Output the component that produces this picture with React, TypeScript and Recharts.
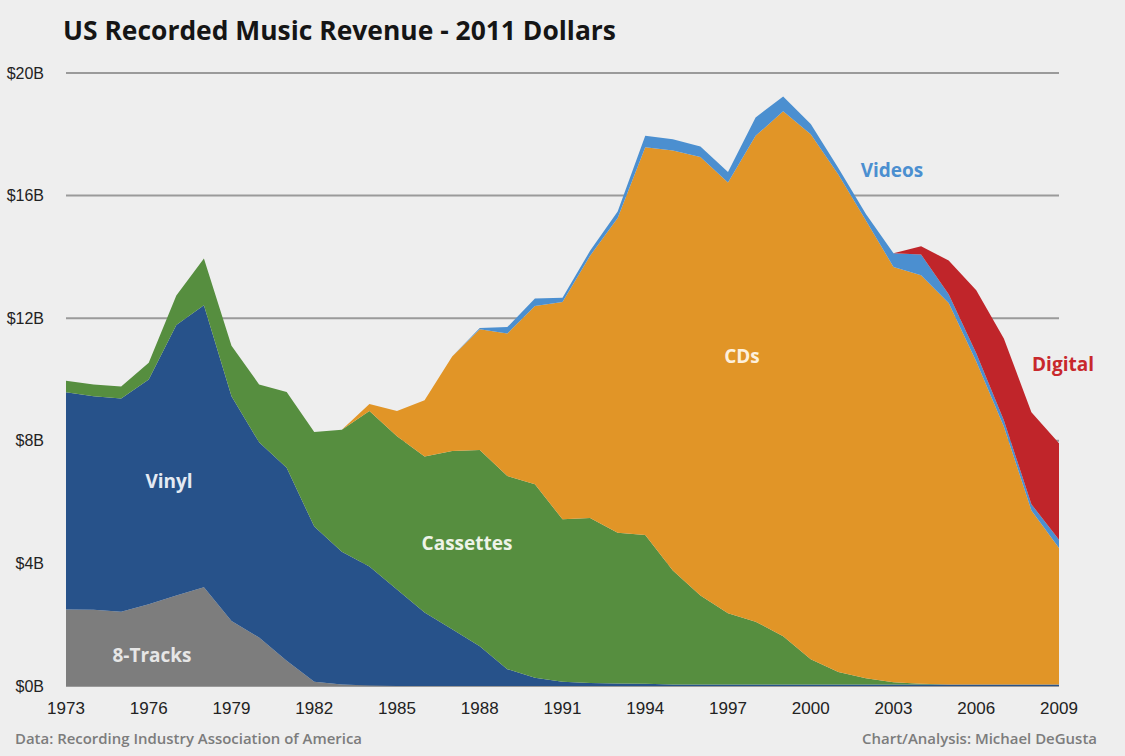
import React from "react";
import { AreaChart, Area, XAxis, YAxis, CartesianGrid } from "recharts";

const years = [
  1973, 1974, 1975, 1976, 1977, 1978, 1979, 1980, 1981, 1982, 1983, 1984, 1985,
  1986, 1987, 1988, 1989, 1990, 1991, 1992, 1993, 1994, 1995, 1996, 1997, 1998,
  1999, 2000, 2001, 2002, 2003, 2004, 2005, 2006, 2007, 2008, 2009,
];

// Revenue in billions of 2011 dollars
const eightTracks = [
  2.5, 2.49, 2.42, 2.67, 2.95, 3.22, 2.12, 1.58, 0.82, 0.14, 0.05, 0.02, 0, 0, 0,
  0, 0, 0, 0, 0, 0, 0, 0, 0, 0, 0, 0, 0, 0, 0, 0, 0, 0, 0, 0, 0, 0,
];
const vinyl = [
  7.08, 6.96, 6.96, 7.33, 8.83, 9.2, 7.33, 6.37, 6.3, 5.06, 4.33, 3.88, 3.15, 2.4,
  1.85, 1.3, 0.55, 0.27, 0.14, 0.1, 0.08, 0.07, 0.05, 0.05, 0.05, 0.05, 0.05, 0.05,
  0.05, 0.05, 0.05, 0.05, 0.05, 0.05, 0.05, 0.05, 0.05,
];
const cassettes = [
  0.38, 0.39, 0.39, 0.55, 0.96, 1.53, 1.65, 1.89, 2.47, 3.09, 3.98, 5.07, 5.0, 5.09,
  5.82, 6.4, 6.3, 6.31, 5.3, 5.38, 4.92, 4.86, 3.72, 2.9, 2.32, 2.05, 1.57, 0.82,
  0.41, 0.2, 0.07, 0.02, 0, 0, 0, 0, 0,
];
const cds = [
  0, 0, 0, 0, 0, 0, 0, 0, 0, 0, 0, 0.23, 0.82, 1.83, 3.08, 3.94, 4.65, 5.82, 7.09,
  8.56, 10.27, 12.65, 13.7, 14.31, 14.06, 15.85, 17.13, 17.13, 16.23, 14.94, 13.55,
  13.33, 12.45, 10.54, 8.42, 5.68, 4.45,
];
const videos = [
  0, 0, 0, 0, 0, 0, 0, 0, 0, 0, 0, 0, 0, 0, 0, 0.04, 0.21, 0.24, 0.14, 0.16, 0.21,
  0.37, 0.37, 0.34, 0.34, 0.6, 0.48, 0.34, 0.21, 0.21, 0.45, 0.68, 0.28, 0.27, 0.2,
  0.2, 0.27,
];
const digital = [
  0, 0, 0, 0, 0, 0, 0, 0, 0, 0, 0, 0, 0, 0, 0, 0, 0, 0, 0, 0, 0, 0, 0, 0, 0, 0, 0,
  0, 0, 0, 0, 0.27, 1.1, 2.05, 2.67, 3.0, 3.15,
];

const xTicks = [1973, 1976, 1979, 1982, 1985, 1988, 1991, 1994, 1997, 2000, 2003, 2006, 2009];
const yTicks = [0, 4, 8, 12, 16, 20];

const data = years.map((year, i) => ({
  year,
  eightTracks: eightTracks[i],
  vinyl: vinyl[i],
  cassettes: cassettes[i],
  cds: cds[i],
  videos: videos[i],
  digital: digital[i],
}));

const series = [
  { key: "eightTracks", color: "#7d7d7d" },
  { key: "vinyl", color: "#27528a" },
  { key: "cassettes", color: "#568e3f" },
  { key: "cds", color: "#e19527" },
  { key: "videos", color: "#4b8fd0" },
  { key: "digital", color: "#c0252a" },
];

const tickFont = { fontFamily: "'Liberation Sans', Arial, sans-serif", fontSize: 16, fill: "#222" };
const labelFont = "'Open Sans', 'Noto Sans', sans-serif";
const fmt = (v: number) => `$${v}B`;

export default function App() {
  return (
    <div style={{ position: "absolute", left: 0, top: 0, width: 1125, height: 756, background: "#eeeeee", overflow: "hidden" }}>
      <AreaChart width={1125} height={756} data={data} margin={{ top: 73, right: 0, bottom: 0, left: 0 }}>
        <CartesianGrid vertical={false} stroke="#9a9a9a" strokeWidth={2} yAxisId="left" />
        <XAxis
          dataKey="year"
          type="number"
          domain={[1973, 2009]}
          ticks={xTicks}
          axisLine={false}
          tickLine={false}
          tickSize={0}
          tickMargin={16}
          height={70}
          interval={0}
          tick={{ ...tickFont, fontSize: 17 }}
        />
        <YAxis
          yAxisId="left"
          orientation="left"
          domain={[0, 20]}
          ticks={yTicks}
          tickFormatter={fmt}
          axisLine={false}
          tickLine={false}
          tickSize={0}
          tickMargin={22}
          width={66}
          tick={tickFont}
        />
        <YAxis
          yAxisId="right"
          orientation="right"
          domain={[0, 20]}
          ticks={yTicks}
          tickFormatter={fmt}
          axisLine={false}
          tickLine={false}
          tickSize={0}
          tickMargin={16}
          width={66}
          tick={tickFont}
        />
        {series.map((s) => (
          <Area
            key={s.key}
            yAxisId="left"
            type="linear"
            dataKey={s.key}
            stackId="rev"
            fill={s.color}
            fillOpacity={1}
            stroke="none"
            isAnimationActive={false}
          />
        ))}
      </AreaChart>
      <svg width={1125} height={756} style={{ position: "absolute", left: 0, top: 0, pointerEvents: "none" }}>
        <text x={63} y={40} fontFamily={labelFont} fontWeight={700} fontSize={27} fill="#151515" textLength={553} lengthAdjust="spacingAndGlyphs">
          US Recorded Music Revenue - 2011 Dollars
        </text>
        <text x={15} y={744} fontFamily={labelFont} fontWeight={600} fontSize={15} fill="#7c7c7c" textLength={347} lengthAdjust="spacingAndGlyphs">
          Data: Recording Industry Association of America
        </text>
        <text x={1097} y={744} textAnchor="end" fontFamily={labelFont} fontWeight={600} fontSize={15} fill="#7c7c7c" textLength={235} lengthAdjust="spacingAndGlyphs">
          Chart/Analysis: Michael DeGusta
        </text>
        <g fontFamily={labelFont} fontWeight={700} fontSize={19} textAnchor="middle">
          <text x={169} y={488} fill="#e4eaf3">Vinyl</text>
          <text x={152} y={662} fill="#e6e6e6">8-Tracks</text>
          <text x={467} y={550} fill="#eef3e8">Cassettes</text>
          <text x={742} y={363} fill="#fdf0dc">CDs</text>
          <text x={892} y={177} fill="#4b8fd0">Videos</text>
          <text x={1063} y={371} fill="#c8282c">Digital</text>
        </g>
      </svg>
    </div>
  );
}
